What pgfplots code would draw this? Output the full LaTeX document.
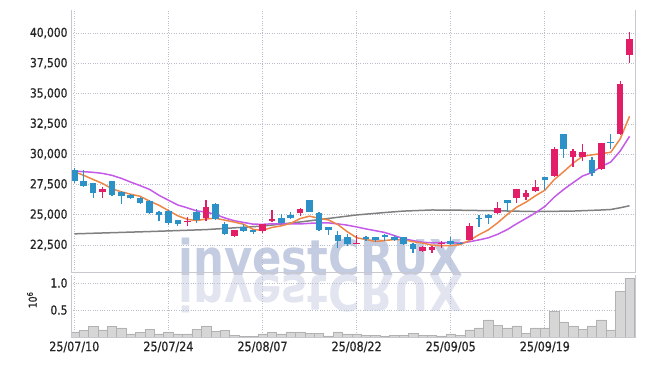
\documentclass[border=0pt]{standalone}
\usepackage{fontspec}
\setmainfont{DejaVu Sans}[FakeStretch=0.88]
\newfontfamily\tickfont{DejaVu Sans}[FakeStretch=0.86, FakeBold=0.9]
\usepackage{pgfplots}
\pgfplotsset{compat=1.18}
\usepackage{pgfplotstable}

\definecolor{cUp}{RGB}{226,30,104}
\definecolor{cDn}{RGB}{44,145,198}
\definecolor{cMAa}{RGB}{238,134,72}
\definecolor{cMAb}{RGB}{196,90,232}
\definecolor{cMAc}{RGB}{128,128,128}
\definecolor{gridc}{RGB}{185,190,205}
\definecolor{axc}{RGB}{200,200,206}
\definecolor{wm}{RGB}{196,204,226}
\definecolor{wmb}{RGB}{226,229,240}
\definecolor{volf}{RGB}{214,214,214}
\definecolor{vold}{RGB}{178,178,178}

% up (red) candles: index open high low close
\pgfplotstableread{
i o h l c
3 26850 27300 26400 27100
12 24450 24850 24050 24500
14 24700 26250 24500 25650
17 23250 23750 23150 23700
20 23650 24250 23450 24200
21 24450 25350 24400 24650
24 25100 25550 24900 25500
30 22600 23350 22550 22700
37 22000 22400 21950 22350
38 22100 22450 21850 22350
39 22550 22800 22250 22700
42 22950 24300 22900 24100
45 25100 26050 25050 25550
47 26350 27150 25950 27150
48 26450 27000 26250 26800
49 26950 27850 26850 27300
51 28200 30600 28150 30400
53 29750 30400 28950 30300
54 29800 30800 29450 30150
56 28800 30950 28700 30950
58 31650 36050 31600 35800
59 38200 40050 37550 39500
}\upT

% down (blue) candles
\pgfplotstableread{
i o h l c
0 28700 28850 27650 27800
1 27800 28700 27300 27350
2 27600 27650 26350 26800
4 27750 27800 26600 26650
5 26850 26950 25900 26550
6 26650 26750 26300 26350
7 26350 26500 25900 25950
8 26100 26200 25050 25100
9 25250 25300 24450 24950
10 25300 25350 24150 24350
11 24550 24600 24100 24200
13 25250 25450 24350 24550
15 25850 25950 24550 24650
16 24200 24400 23300 23400
18 23950 24200 23600 23650
19 23700 23750 23400 23550
22 24700 25050 24300 24350
23 25000 25250 24650 24700
25 26200 26200 25200 25200
26 25150 25200 23700 23750
27 23950 24000 23350 23700
28 23300 23650 22250 22800
29 23200 23400 22400 22550
31 23150 23250 22850 23000
32 23150 23200 22750 22900
33 23350 23400 22850 23200
34 23200 23300 22850 22950
35 23150 23200 22550 22600
36 22600 22650 21850 22200
40 22800 23200 22550 22600
41 22700 22750 22600 22650
43 24750 24950 24000 24700
44 25000 25050 24250 24700
46 26200 26250 25300 26000
50 28100 28100 27050 27850
52 31650 31650 29650 30400
55 29500 29750 28200 28450
57 31000 31650 30400 30900
}\dnT

% moving averages (5, 10) and volume (x 10^6)
\pgfplotstableread{
i m5 m10 v
0 28550 28600 0.093
1 28250 28550 0.117
2 27910 28500 0.190
3 27580 28410 0.130
4 27140 28250 0.190
5 26890 28000 0.167
6 26690 27690 0.056
7 26520 27400 0.080
8 26120 27090 0.148
9 25780 26600 0.056
10 25340 26200 0.093
11 24910 25800 0.056
12 24620 25570 0.056
13 24510 25315 0.148
14 24650 25215 0.204
15 24710 25025 0.098
16 24550 24730 0.117
17 24390 24505 0.037
18 24210 24360 0.012
19 23790 24220 0.012
20 23700 24205 0.056
21 23950 24250 0.093
22 24080 24235 0.056
23 24290 24250 0.093
24 24680 24235 0.093
25 24880 24290 0.074
26 24700 24325 0.074
27 24570 24325 0.020
28 24190 24240 0.093
29 23600 24140 0.056
30 23100 23990 0.056
31 22950 23825 0.037
32 22790 23680 0.037
33 22870 23530 0.012
34 22950 23275 0.037
35 22930 23015 0.037
36 22770 22860 0.074
37 22660 22725 0.037
38 22490 22680 0.037
39 22440 22695 0.020
40 22440 22685 0.056
41 22530 22650 0.037
42 22880 22770 0.130
43 23350 22920 0.167
44 23750 23095 0.315
45 24340 23390 0.222
46 25010 23770 0.167
47 25620 24250 0.204
48 26040 24695 0.074
49 26560 25155 0.167
50 27020 25680 0.167
51 27900 26455 0.480
52 28550 27085 0.278
53 29250 27645 0.204
54 29820 28190 0.148
55 29940 28480 0.204
56 30050 28975 0.315
57 30150 29350 0.130
58 31250 30250 0.850
59 33120 31470 1.090
}\maT

% long moving average (grey)
\pgfplotstableread{
i m
0 23420
8 23610
14 23770
20 24060
24 24400
27 24690
30 24980
33 25180
35 25300
38 25390
41 25370
45 25320
49 25260
53 25300
56 25390
57 25430
58 25570
59 25740
}\mlT

\pgfplotsset{
  common/.style={
    scale only axis, anchor=south west,
    width=564bp,
    xmin=-0.35, xmax=59.58,
    xtick={0,10,...,50},
    grid=major,
    major grid style={gridc, dotted, line width=0.7bp},
    major tick length=0pt,
    axis line style={draw=none},
    scaled y ticks=false,
    /pgf/number format/assume math mode=true,
    tick label style={font=\tickfont\fontsize{12.5}{14}\selectfont, text=black!85},
  },
  candle/.style={only marks, mark=none, mark size=0pt,
    mark options={draw=none, fill=none, opacity=0}, forget plot},
}

\begin{document}
\begin{tikzpicture}
\useasboundingbox (-71bp,-94bp) rectangle (574bp,272bp);
% watermark
\node[text=wm, font=\fontsize{49.5}{50}\selectfont\bfseries, anchor=base, inner sep=0pt] at (249.5bp,-3bp) {investCRUX};
\node[text=wmb, font=\fontsize{49.5}{50}\selectfont\bfseries, anchor=base, inner sep=0pt, yscale=-1] at (249.5bp,-3bp) {investCRUX};

\begin{axis}[common,
  at={(0bp,0bp)}, height=262bp,
  ymin=20270, ymax=41900,
  xticklabels={},
  ytick={22500,25000,...,40000},
  /pgf/number format/.cd, fixed, 1000 sep={,},
  /pgfplots/.cd,
  extra description/.code={
    \draw[axc, line width=0.8bp] (rel axis cs:0,1) -- (rel axis cs:0,0) -- (rel axis cs:1,0) -- (rel axis cs:1,1);
  },
]
\addplot[cMAc, line width=1.5bp] table[x=i, y=m] {\mlT};
\addplot[cMAb, line width=1.5bp] table[x=i, y=m10] {\maT};
\addplot[cMAa, line width=1.5bp] table[x=i, y=m5] {\maT};
% wicks
\addplot[candle, error bars/.cd, y dir=both, y explicit, error mark=none,
  error bar style={draw=cUp, line width=1.2bp}]
  table[x=i, y=c, y error plus expr=\thisrow{h}-\thisrow{c}, y error minus expr=\thisrow{c}-\thisrow{l}] {\upT};
\addplot[candle, error bars/.cd, y dir=both, y explicit, error mark=none,
  error bar style={draw=cDn, line width=1.2bp}]
  table[x=i, y=c, y error plus expr=\thisrow{h}-\thisrow{c}, y error minus expr=\thisrow{c}-\thisrow{l}] {\dnT};
% bodies
\addplot[candle, error bars/.cd, y dir=plus, y explicit, error mark=none,
  error bar style={draw=cUp, line width=6.6bp}]
  table[x=i, y=o, y error expr=\thisrow{c}-\thisrow{o}] {\upT};
\addplot[candle, error bars/.cd, y dir=plus, y explicit, error mark=none,
  error bar style={draw=cDn, line width=6.6bp}]
  table[x=i, y=c, y error expr=\thisrow{o}-\thisrow{c}] {\dnT};
\end{axis}

\begin{axis}[common,
  at={(0bp,-65bp)}, height=62bp,
  ymin=0, ymax=1.148,
  ytick={0.5,1}, yticklabels={0.5,1.0},
  xticklabels={25/07/10,25/07/24,25/08/07,25/08/22,25/09/05,25/09/19},
  x tick label style={font=\tickfont\fontsize{13}{14}\selectfont, yshift=-1bp},
  extra description/.code={
    \draw[axc, line width=0.8bp] (rel axis cs:0,1) -- (rel axis cs:0,0) -- (rel axis cs:1,0) -- (rel axis cs:1,1);
  },
]
\addplot[ybar, bar width=9.41bp, fill=volf, draw=vold, line width=0.5bp] table[x=i, y=v] {\maT};
\end{axis}

\node[rotate=90, font=\tickfont\fontsize{11}{12}\selectfont, text=black!85] at (-39bp,-28bp) {10\textsuperscript{6}};
\end{tikzpicture}
\end{document}
